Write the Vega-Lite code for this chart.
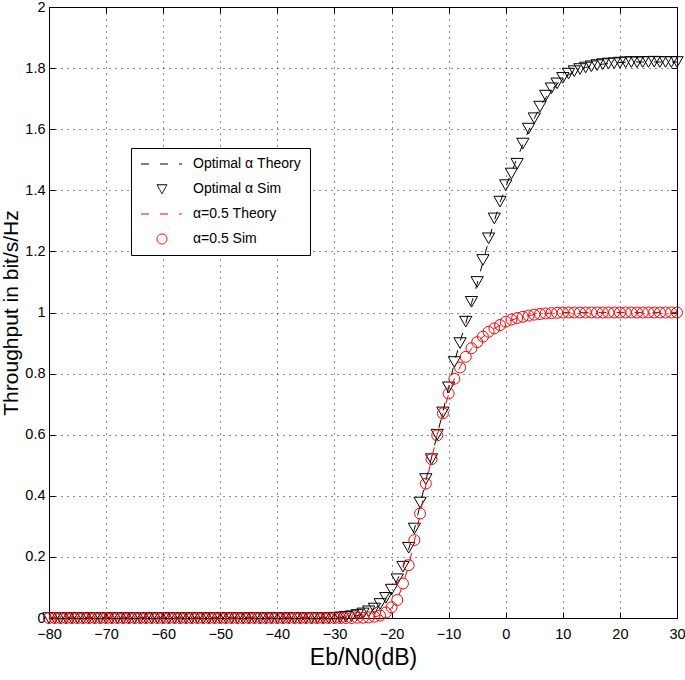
{
  "$schema": "https://vega.github.io/schema/vega-lite/v6.json",
  "width": 628,
  "height": 611,
  "autosize": {"type": "none"},
  "padding": {"left": 49, "top": 7, "right": 8, "bottom": 62},
  "background": "white",
  "config": {
    "view": {"stroke": null},
    "axis": {"labelColor": "black", "titleColor": "black", "domainColor": "black", "tickColor": "black", "domainWidth": 1, "tickWidth": 1},
    "font": "Liberation Sans, Arial, sans-serif"
  },
  "data": {"values": [
    {"x":-80,"a":"o","t":0,"m":0},{"x":-79,"a":"o","t":0,"m":0},{"x":-78,"a":"o","t":0,"m":0},{"x":-77,"a":"o","t":0,"m":0},{"x":-76,"a":"o","t":0,"m":0},{"x":-75,"a":"o","t":0,"m":0},{"x":-74,"a":"o","t":0,"m":0},{"x":-73,"a":"o","t":0,"m":0},{"x":-72,"a":"o","t":0,"m":0},{"x":-71,"a":"o","t":0,"m":0},
    {"x":-70,"a":"o","t":0,"m":0},{"x":-69,"a":"o","t":0,"m":0},{"x":-68,"a":"o","t":0,"m":0},{"x":-67,"a":"o","t":0,"m":0},{"x":-66,"a":"o","t":0,"m":0},{"x":-65,"a":"o","t":0,"m":0},{"x":-64,"a":"o","t":0,"m":0},{"x":-63,"a":"o","t":0,"m":0},{"x":-62,"a":"o","t":0,"m":0},{"x":-61,"a":"o","t":0,"m":0},
    {"x":-60,"a":"o","t":0,"m":0},{"x":-59,"a":"o","t":0,"m":0},{"x":-58,"a":"o","t":0,"m":0},{"x":-57,"a":"o","t":0,"m":0},{"x":-56,"a":"o","t":0,"m":0},{"x":-55,"a":"o","t":0,"m":0},{"x":-54,"a":"o","t":0,"m":0},{"x":-53,"a":"o","t":0,"m":0},{"x":-52,"a":"o","t":0,"m":0},{"x":-51,"a":"o","t":0,"m":0},
    {"x":-50,"a":"o","t":0,"m":0},{"x":-49,"a":"o","t":0,"m":0},{"x":-48,"a":"o","t":0,"m":0},{"x":-47,"a":"o","t":0,"m":0},{"x":-46,"a":"o","t":0,"m":0},{"x":-45,"a":"o","t":0,"m":0},{"x":-44,"a":"o","t":0,"m":0},{"x":-43,"a":"o","t":0,"m":0},{"x":-42,"a":"o","t":0,"m":0},{"x":-41,"a":"o","t":0,"m":0},
    {"x":-40,"a":"o","t":0,"m":0},{"x":-39,"a":"o","t":0,"m":0},{"x":-38,"a":"o","t":0,"m":0},{"x":-37,"a":"o","t":0,"m":0},{"x":-36,"a":"o","t":0,"m":0},{"x":-35,"a":"o","t":0,"m":0},{"x":-34,"a":"o","t":0,"m":0},{"x":-33,"a":"o","t":0,"m":0},{"x":-32,"a":"o","t":0,"m":0},{"x":-31,"a":"o","t":0,"m":0},
    {"x":-30,"a":"o","t":0.001,"m":0.001},{"x":-29,"a":"o","t":0.002,"m":0.002},{"x":-28,"a":"o","t":0.003,"m":0.004},{"x":-27,"a":"o","t":0.005,"m":0.006},{"x":-26,"a":"o","t":0.008,"m":0.01},{"x":-25,"a":"o","t":0.013,"m":0.015},{"x":-24,"a":"o","t":0.02,"m":0.022},{"x":-23,"a":"o","t":0.03,"m":0.031},{"x":-22,"a":"o","t":0.045,"m":0.046},{"x":-21,"a":"o","t":0.065,"m":0.066},
    {"x":-20,"a":"o","t":0.092,"m":0.093},{"x":-19,"a":"o","t":0.125,"m":0.127},{"x":-18,"a":"o","t":0.165,"m":0.168},{"x":-17,"a":"o","t":0.225,"m":0.23},{"x":-16,"a":"o","t":0.29,"m":0.293},{"x":-15,"a":"o","t":0.37,"m":0.378},{"x":-14,"a":"o","t":0.45,"m":0.455},{"x":-13,"a":"o","t":0.525,"m":0.52},{"x":-12,"a":"o","t":0.6,"m":0.6},{"x":-11,"a":"o","t":0.675,"m":0.673},
    {"x":-10,"a":"o","t":0.755,"m":0.755},{"x":-9,"a":"o","t":0.835,"m":0.838},{"x":-8,"a":"o","t":0.905,"m":0.9},{"x":-7,"a":"o","t":0.965,"m":0.97},{"x":-6,"a":"o","t":1.03,"m":1.035},{"x":-5,"a":"o","t":1.095,"m":1.1},{"x":-4,"a":"o","t":1.165,"m":1.172},{"x":-3,"a":"o","t":1.235,"m":1.243},{"x":-2,"a":"o","t":1.3,"m":1.308},{"x":-1,"a":"o","t":1.36,"m":1.363},
    {"x":0,"a":"o","t":1.41,"m":1.417},{"x":1,"a":"o","t":1.46,"m":1.455},{"x":2,"a":"o","t":1.505,"m":1.487},{"x":3,"a":"o","t":1.55,"m":1.553},{"x":4,"a":"o","t":1.595,"m":1.602},{"x":5,"a":"o","t":1.635,"m":1.636},{"x":6,"a":"o","t":1.672,"m":1.674},{"x":7,"a":"o","t":1.703,"m":1.71},{"x":8,"a":"o","t":1.728,"m":1.734},{"x":9,"a":"o","t":1.748,"m":1.75},
    {"x":10,"a":"o","t":1.765,"m":1.768},{"x":11,"a":"o","t":1.778,"m":1.782},{"x":12,"a":"o","t":1.788,"m":1.79},{"x":13,"a":"o","t":1.796,"m":1.797},{"x":14,"a":"o","t":1.802,"m":1.802},{"x":15,"a":"o","t":1.807,"m":1.806},{"x":16,"a":"o","t":1.81,"m":1.81},{"x":17,"a":"o","t":1.813,"m":1.813},{"x":18,"a":"o","t":1.815,"m":1.815},{"x":19,"a":"o","t":1.817,"m":1.816},
    {"x":20,"a":"o","t":1.818,"m":1.818},{"x":21,"a":"o","t":1.819,"m":1.819},{"x":22,"a":"o","t":1.82,"m":1.82},{"x":23,"a":"o","t":1.82,"m":1.819},{"x":24,"a":"o","t":1.82,"m":1.82},{"x":25,"a":"o","t":1.82,"m":1.82},{"x":26,"a":"o","t":1.82,"m":1.821},{"x":27,"a":"o","t":1.82,"m":1.82},{"x":28,"a":"o","t":1.82,"m":1.82},{"x":29,"a":"o","t":1.82,"m":1.82},{"x":30,"a":"o","t":1.82,"m":1.82},
    {"x":-80,"a":"h","t":0,"m":0},{"x":-79,"a":"h","t":0,"m":0},{"x":-78,"a":"h","t":0,"m":0},{"x":-77,"a":"h","t":0,"m":0},{"x":-76,"a":"h","t":0,"m":0},{"x":-75,"a":"h","t":0,"m":0},{"x":-74,"a":"h","t":0,"m":0},{"x":-73,"a":"h","t":0,"m":0},{"x":-72,"a":"h","t":0,"m":0},{"x":-71,"a":"h","t":0,"m":0},
    {"x":-70,"a":"h","t":0,"m":0},{"x":-69,"a":"h","t":0,"m":0},{"x":-68,"a":"h","t":0,"m":0},{"x":-67,"a":"h","t":0,"m":0},{"x":-66,"a":"h","t":0,"m":0},{"x":-65,"a":"h","t":0,"m":0},{"x":-64,"a":"h","t":0,"m":0},{"x":-63,"a":"h","t":0,"m":0},{"x":-62,"a":"h","t":0,"m":0},{"x":-61,"a":"h","t":0,"m":0},
    {"x":-60,"a":"h","t":0,"m":0},{"x":-59,"a":"h","t":0,"m":0},{"x":-58,"a":"h","t":0,"m":0},{"x":-57,"a":"h","t":0,"m":0},{"x":-56,"a":"h","t":0,"m":0},{"x":-55,"a":"h","t":0,"m":0},{"x":-54,"a":"h","t":0,"m":0},{"x":-53,"a":"h","t":0,"m":0},{"x":-52,"a":"h","t":0,"m":0},{"x":-51,"a":"h","t":0,"m":0},
    {"x":-50,"a":"h","t":0,"m":0},{"x":-49,"a":"h","t":0,"m":0},{"x":-48,"a":"h","t":0,"m":0},{"x":-47,"a":"h","t":0,"m":0},{"x":-46,"a":"h","t":0,"m":0},{"x":-45,"a":"h","t":0,"m":0},{"x":-44,"a":"h","t":0,"m":0},{"x":-43,"a":"h","t":0,"m":0},{"x":-42,"a":"h","t":0,"m":0},{"x":-41,"a":"h","t":0,"m":0},
    {"x":-40,"a":"h","t":0,"m":0},{"x":-39,"a":"h","t":0,"m":0},{"x":-38,"a":"h","t":0,"m":0},{"x":-37,"a":"h","t":0,"m":0},{"x":-36,"a":"h","t":0,"m":0},{"x":-35,"a":"h","t":0,"m":0},{"x":-34,"a":"h","t":0,"m":0},{"x":-33,"a":"h","t":0,"m":0},{"x":-32,"a":"h","t":0,"m":0},{"x":-31,"a":"h","t":0,"m":0},
    {"x":-30,"a":"h","t":0,"m":0},{"x":-29,"a":"h","t":0,"m":0},{"x":-28,"a":"h","t":0,"m":0},{"x":-27,"a":"h","t":0,"m":0},{"x":-26,"a":"h","t":0.001,"m":0.001},{"x":-25,"a":"h","t":0.001,"m":0.001},{"x":-24,"a":"h","t":0.002,"m":0.002},{"x":-23,"a":"h","t":0.004,"m":0.004},{"x":-22,"a":"h","t":0.008,"m":0.008},{"x":-21,"a":"h","t":0.017,"m":0.018},
    {"x":-20,"a":"h","t":0.033,"m":0.035},{"x":-19,"a":"h","t":0.06,"m":0.059},{"x":-18,"a":"h","t":0.11,"m":0.113},{"x":-17,"a":"h","t":0.172,"m":0.173},{"x":-16,"a":"h","t":0.252,"m":0.255},{"x":-15,"a":"h","t":0.34,"m":0.342},{"x":-14,"a":"h","t":0.435,"m":0.44},{"x":-13,"a":"h","t":0.52,"m":0.52},{"x":-12,"a":"h","t":0.6,"m":0.598},{"x":-11,"a":"h","t":0.67,"m":0.67},
    {"x":-10,"a":"h","t":0.732,"m":0.735},{"x":-9,"a":"h","t":0.783,"m":0.783},{"x":-8,"a":"h","t":0.822,"m":0.82},{"x":-7,"a":"h","t":0.855,"m":0.855},{"x":-6,"a":"h","t":0.882,"m":0.883},{"x":-5,"a":"h","t":0.903,"m":0.903},{"x":-4,"a":"h","t":0.92,"m":0.921},{"x":-3,"a":"h","t":0.936,"m":0.937},{"x":-2,"a":"h","t":0.948,"m":0.948},{"x":-1,"a":"h","t":0.958,"m":0.959},
    {"x":0,"a":"h","t":0.967,"m":0.97},{"x":1,"a":"h","t":0.975,"m":0.977},{"x":2,"a":"h","t":0.981,"m":0.982},{"x":3,"a":"h","t":0.986,"m":0.986},{"x":4,"a":"h","t":0.99,"m":0.99},{"x":5,"a":"h","t":0.993,"m":0.993},{"x":6,"a":"h","t":0.995,"m":0.995},{"x":7,"a":"h","t":0.997,"m":0.997},{"x":8,"a":"h","t":0.998,"m":0.998},{"x":9,"a":"h","t":0.999,"m":0.999},
    {"x":10,"a":"h","t":1,"m":1},{"x":11,"a":"h","t":1,"m":1},{"x":12,"a":"h","t":1,"m":1},{"x":13,"a":"h","t":1,"m":1},{"x":14,"a":"h","t":1,"m":1},{"x":15,"a":"h","t":1,"m":1},{"x":16,"a":"h","t":1,"m":1},{"x":17,"a":"h","t":1,"m":1},{"x":18,"a":"h","t":1,"m":1},{"x":19,"a":"h","t":1,"m":1},
    {"x":20,"a":"h","t":1,"m":1},{"x":21,"a":"h","t":1,"m":1},{"x":22,"a":"h","t":1,"m":1},{"x":23,"a":"h","t":1,"m":1},{"x":24,"a":"h","t":1,"m":1},{"x":25,"a":"h","t":1,"m":1},{"x":26,"a":"h","t":1,"m":1},{"x":27,"a":"h","t":1,"m":1},{"x":28,"a":"h","t":1,"m":1},{"x":29,"a":"h","t":1,"m":1},{"x":30,"a":"h","t":1,"m":1}
  ]},
  "layer": [
    {
      "transform": [{"filter": "datum.a == 'o'"}],
      "mark": {"type": "line", "stroke": "black", "strokeWidth": 1, "strokeDash": [8, 10]},
      "encoding": {
        "x": {"field": "x", "type": "quantitative", "scale": {"domain": [-80, 30], "nice": false, "zero": false},
          "axis": {"orient": "bottom", "values": [-80,-70,-60,-50,-40,-30,-20,-10,0,10,20,30], "grid": true, "gridColor": "black", "gridDash": [1, 5], "gridOpacity": 0.9, "tickSize": -6, "labelFontSize": 14.5, "labelPadding": 15, "labelFlush": false, "labelOverlap": false, "title": "Eb/N0(dB)", "titleFontSize": 23, "titleFontWeight": "normal", "titlePadding": 6}},
        "y": {"field": "t", "type": "quantitative", "scale": {"domain": [0, 2], "nice": false, "zero": false},
          "axis": {"orient": "left", "values": [0,0.2,0.4,0.6,0.8,1,1.2,1.4,1.6,1.8,2], "format": "~g", "grid": true, "gridColor": "black", "gridDash": [1, 5], "gridOpacity": 0.9, "tickSize": -6, "labelFontSize": 14.5, "labelPadding": 10, "labelFlush": false, "labelOverlap": false, "title": "Throughput in bit/s/Hz", "titleFontSize": 21, "titleFontWeight": "normal", "titlePadding": 3}}
      }
    },
    {
      "transform": [{"filter": "datum.a == 'o'"}],
      "mark": {"type": "point", "shape": "triangle-down", "filled": false, "stroke": "black", "strokeWidth": 1, "size": 150, "opacity": 1},
      "encoding": {
        "x": {"field": "x", "type": "quantitative",
          "axis": {"orient": "top", "values": [-80,-70,-60,-50,-40,-30,-20,-10,0,10,20,30], "labels": false, "grid": false, "tickSize": -6, "title": null}},
        "y": {"field": "m", "type": "quantitative",
          "axis": {"orient": "right", "values": [0,0.2,0.4,0.6,0.8,1,1.2,1.4,1.6,1.8,2], "labels": false, "grid": false, "tickSize": -6, "title": null}}
      }
    },
    {
      "transform": [{"filter": "datum.a == 'h'"}],
      "mark": {"type": "line", "stroke": "#ff0000", "strokeWidth": 1, "strokeDash": [8, 10]},
      "encoding": {
        "x": {"field": "x", "type": "quantitative", "axis": null},
        "y": {"field": "t", "type": "quantitative", "axis": null}
      }
    },
    {
      "transform": [{"filter": "datum.a == 'h'"}],
      "mark": {"type": "point", "shape": "circle", "filled": false, "stroke": "#ff0000", "strokeWidth": 1, "size": 120, "opacity": 1},
      "encoding": {
        "x": {"field": "x", "type": "quantitative", "axis": null},
        "y": {"field": "m", "type": "quantitative", "axis": null}
      }
    },
    {
      "data": {"values": []},
      "mark": {"type": "point", "filled": false, "strokeWidth": 1, "opacity": 1},
      "encoding": {
        "color": {"field": "series", "type": "nominal",
          "scale": {"domain": ["Optimal α Theory", "Optimal α Sim", "α=0.5 Theory", "α=0.5 Sim"], "range": ["black", "black", "#ff0000", "#ff0000"]},
          "legend": {"title": null, "orient": "none", "legendX": 82, "legendY": 141, "strokeColor": "black", "fillColor": "white", "padding": 9, "labelFontSize": 14, "labelColor": "black", "labelOffset": 39, "symbolSize": 100, "symbolStrokeWidth": 1, "rowPadding": 11, "labelLimit": 0, "symbolFillColor": "transparent"}},
        "shape": {"field": "series", "type": "nominal",
          "scale": {"domain": ["Optimal α Theory", "Optimal α Sim", "α=0.5 Theory", "α=0.5 Sim"], "range": ["M-1.2,0H7", "M2.0,-0.85L4.0,-0.85L3.0,0.95Z", "M-1.2,0H7", "M2.0,0A1,1,0,1,0,4.0,0A1,1,0,1,0,2.0,0Z"]}},
        "strokeDash": {"field": "series", "type": "nominal",
          "scale": {"domain": ["Optimal α Theory", "Optimal α Sim", "α=0.5 Theory", "α=0.5 Sim"], "range": [[8, 11], [1, 0], [8, 11], [1, 0]]}}
      }
    }
  ]
}
